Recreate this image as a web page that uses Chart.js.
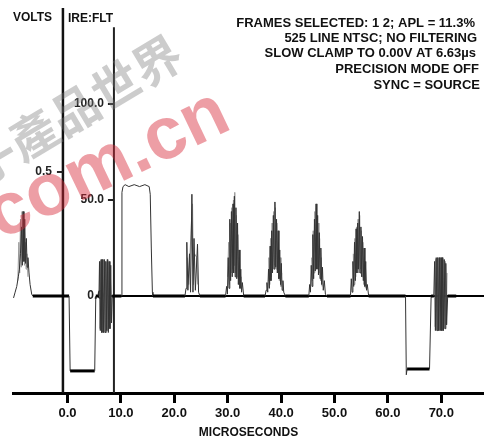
<!DOCTYPE html>
<html>
<head>
<meta charset="utf-8">
<script src="https://cdn.jsdelivr.net/npm/chart.js@4.4.1/dist/chart.umd.min.js"></script>
<style>
  html, body { margin: 0; padding: 0; background: #fff; }
  #wrap { width: 484px; height: 439px; }
</style>
</head>
<body>
<div id="wrap"><canvas id="scope" width="484" height="439"></canvas></div>
<script>
// ====================== DATA ======================
const xTicks = [0, 10, 20, 30, 40, 50, 60, 70];
const ireTicks = [0, 50, 100];
const voltTicks = [0.5];
const xTitle = "MICROSECONDS";
const voltsTitle = "VOLTS";
const ireTitle = "IRE:FLT";
const headerLines = [
  "FRAMES SELECTED: 1 2; APL = 11.3%",
  "525 LINE NTSC; NO FILTERING",
  "SLOW CLAMP TO 0.00V AT 6.63\u00b5s",
  "PRECISION MODE OFF",
  "SYNC = SOURCE"
];
const watermarkLatin = "com.cn";
const watermarkCJK = "電子產品世界";

// frame 1 trace: time (us) / level (IRE)
const frame1T = [
  -10.1, -9.8, -9.5, -9.2, -9.0, -8.8, -8.6, -8.45, -8.3, -8.15, -8.0, -7.85, -7.7, -7.55, -7.4, -7.2, -7.0, -6.7, -6.5,
  0.3, 0.5, 5.1, 5.3, 5.9,
  6.0, 6.15, 6.3, 6.45, 6.6, 6.75, 6.9, 7.05, 7.2, 7.35, 7.5, 7.65, 7.8, 7.95, 8.1, 8.25, 8.4,
  10.1, 10.2, 10.4, 10.8, 11.5, 12.5, 13.5, 14.5, 15.3, 15.5, 15.7, 15.9, 16.0,
  22.0, 22.2, 22.35, 22.55, 22.85, 23.05, 23.3, 23.5, 23.7, 23.95, 24.35, 24.55, 24.8,
  29.6, 29.8, 29.95, 30.1, 30.25, 30.4, 30.55, 30.7, 30.85, 31.0, 31.12, 31.25, 31.4, 31.55, 31.7, 31.85, 32.0, 32.15, 32.3, 32.45, 32.6, 32.75, 33.0,
  37.0, 37.2, 37.35, 37.5, 37.65, 37.8, 37.95, 38.1, 38.25, 38.4, 38.55, 38.7, 38.85, 39.0, 39.15, 39.3, 39.45, 39.6, 39.75, 39.9, 40.05, 40.2, 40.35, 40.5, 40.8,
  45.2, 45.35, 45.5, 45.65, 45.8, 45.95, 46.1, 46.25, 46.4, 46.55, 46.7, 46.85, 47.0, 47.15, 47.3, 47.45, 47.6, 47.75, 47.9, 48.1, 48.3, 48.6,
  53.0, 53.15, 53.3, 53.45, 53.6, 53.75, 53.9, 54.05, 54.2, 54.35, 54.5, 54.65, 54.8, 54.95, 55.1, 55.25, 55.4, 55.55, 55.7, 55.85, 56.0, 56.15, 56.4,
  63.3, 63.45, 63.6, 67.8, 68.1, 68.6,
  68.75, 68.9, 69.05, 69.2, 69.35, 69.5, 69.65, 69.8, 69.95, 70.1, 70.25, 70.4, 70.55, 70.7, 70.85, 71.0, 71.2, 72.8
];
const frame1V = [
  -1, 2, 5, 10, 14, 22, 36, 16, 44, 18, 40, 17, 30, 15, 20, 12, 6, 1, 0,
  0, -39, -39, 0, 0,
  18, -18, 19, -19, 19, -19, 19, -19, 18, -18, 19, -19, 18, -17, 16, -14, 0,
  0, 54, 57, 58, 57, 58, 57, 58, 57, 53, 25, 2, 0,
  0, 4, 28, 3, 22, 2, 53, 2, 30, 3, 27, 2, 0,
  0, 5, 1, 20, 4, 40, 8, 44, 10, 48, 12, 52, 10, 46, 9, 38, 6, 24, 4, 14, 2, 7, 0,
  0, 3, 7, 2, 14, 4, 26, 8, 34, 12, 42, 14, 49, 15, 40, 12, 34, 9, 24, 6, 17, 3, 8, 2, 0,
  0, 6, 2, 16, 5, 32, 9, 40, 13, 48, 14, 42, 11, 33, 9, 25, 6, 15, 3, 8, 1, 0,
  0, 9, 2, 18, 5, 28, 8, 35, 12, 38, 14, 44, 12, 36, 10, 31, 8, 25, 5, 18, 3, 6, 0,
  0, -41, -38, -38, 0, 0,
  18, -18, 20, -18, 20, -18, 20, -18, 20, -18, 20, -18, 19, -17, 17, -15, 0, 0
];

// frame 2 (grey), only the chroma parts; null breaks the line
const frame2T = [
  -9.3, -9.1, -8.95, -8.8, -8.65, -8.5, -8.35, -8.2, -8.05, -7.9, -7.75, -7.6, -7.4, -7.4,
  6.05, 6.22, 6.38, 6.52, 6.68, 6.82, 6.98, 7.12, 7.28, 7.42, 7.58, 7.72, 7.88, 8.02, 8.18, 8.18,
  22.45, 22.7, 23.2, 23.42, 23.6, 23.8, 24.2, 24.4, 24.4,
  30.0, 30.18, 30.32, 30.48, 30.62, 30.78, 30.92, 31.08, 31.2, 31.33, 31.48, 31.62, 31.78, 31.92, 32.08, 32.22, 32.38, 32.55, 32.55,
  37.6, 37.72, 37.88, 38.02, 38.18, 38.32, 38.48, 38.62, 38.78, 38.92, 39.08, 39.22, 39.38, 39.52, 39.68, 39.82, 39.98, 40.12, 40.12,
  45.72, 45.88, 46.02, 46.18, 46.32, 46.48, 46.62, 46.78, 46.92, 47.08, 47.22, 47.38, 47.52, 47.68, 47.68,
  53.52, 53.68, 53.82, 53.98, 54.12, 54.28, 54.42, 54.58, 54.72, 54.88, 55.02, 55.18, 55.32, 55.48, 55.62, 55.78, 55.78,
  68.82, 68.98, 69.12, 69.28, 69.42, 69.58, 69.72, 69.88, 70.02, 70.18, 70.32, 70.48, 70.62, 70.78, 70.92, 71.08
];
const frame2V = [
  8, 28, 12, 40, 15, 44, 20, 38, 16, 28, 14, 22, 10, null,
  -17, 18, -19, 19, -19, 19, -19, 18, -19, 19, -18, 18, -16, 15, -12, null,
  20, 6, 38, 48, 6, 22, 20, 6, null,
  10, 28, 6, 38, 12, 46, 14, 50, 16, 54, 12, 42, 10, 32, 6, 20, 4, 10, null,
  8, 20, 6, 30, 10, 38, 14, 44, 16, 46, 14, 38, 12, 28, 8, 20, 5, 12, null,
  20, 8, 34, 12, 44, 14, 46, 14, 38, 12, 30, 8, 20, 5, null,
  22, 6, 30, 10, 36, 14, 40, 12, 42, 14, 34, 10, 28, 6, 20, 4, null,
  -16, 19, -18, 20, -18, 20, -18, 20, -18, 20, -18, 19, -17, 18, -15, 12
];

// ====================== HELPERS ======================
const FONT = '"Liberation Sans", Arial, Helvetica, sans-serif';
const voltsAxisAt = -0.85;   // us, where the VOLTS axis stands
const ireAxisAt = 8.7;       // us, where the IRE axis stands
const ireAxisTop = 140;      // IRE, top end of the IRE axis line

function toPoints(ts, vs) {
  let pts = [];
  for (let i = 0; i < Math.min(ts.length, vs.length); i++) pts.push({ x: ts[i], y: vs[i] });
  return pts;
}

function isFlat(ctx) {
  return ctx.p0.parsed.y === ctx.p1.parsed.y && ctx.p0.parsed.y <= 0;
}

// ====================== AXES / TEXT PLUGIN ======================
const scopeDecor = {
  id: "scopeDecor",
  beforeDatasetsDraw(chart) {
    const { ctx, chartArea, scales } = chart;
    const x = scales.x, y = scales.y, volts = scales.volts;
    ctx.save();

    // zero line from the IRE axis to the right edge
    const y0 = y.getPixelForValue(0);
    const ix = x.getPixelForValue(ireAxisAt);
    const vx = x.getPixelForValue(voltsAxisAt);
    ctx.strokeStyle = "#000";
    ctx.lineWidth = 2;
    ctx.beginPath();
    ctx.moveTo(ix, y0);
    ctx.lineTo(chartArea.right, y0);
    ctx.stroke();

    // VOLTS axis
    ctx.lineWidth = 2.5;
    ctx.strokeStyle = "#111";
    ctx.beginPath();
    ctx.moveTo(vx, chartArea.top);
    ctx.lineTo(vx, chartArea.bottom);
    ctx.stroke();

    // IRE axis
    ctx.lineWidth = 2;
    ctx.strokeStyle = "#222";
    ctx.beginPath();
    ctx.moveTo(ix, y.getPixelForValue(ireAxisTop));
    ctx.lineTo(ix, chartArea.bottom);
    ctx.stroke();

    ctx.font = "bold 12px " + FONT;
    ctx.fillStyle = "#222";
    ctx.textAlign = "right";
    ctx.textBaseline = "middle";

    voltTicks.forEach(v => {
      const py = volts.getPixelForValue(v);
      ctx.beginPath();
      ctx.moveTo(vx - 6, py);
      ctx.lineTo(vx, py);
      ctx.stroke();
      ctx.fillText(v.toFixed(1), vx - 11, py);
    });

    ireTicks.forEach(v => {
      const py = y.getPixelForValue(v);
      ctx.beginPath();
      ctx.moveTo(ix - 6, py);
      ctx.lineTo(ix, py);
      ctx.stroke();
      ctx.fillText(v.toFixed(1), ix - 10, py);
    });

    // axis titles
    ctx.fillStyle = "#111";
    ctx.textAlign = "left";
    ctx.fillText(voltsTitle, 13, 18);
    ctx.fillText(ireTitle, 68, 18.5);

    // status block, top right
    const rights = [475, 477, 476, 479, 480];
    const ys = [23, 38, 53.5, 69.5, 85];
    ctx.font = "bold 13px " + FONT;
    ctx.textAlign = "right";
    headerLines.forEach((t, i) => ctx.fillText(t, rights[i], ys[i]));
    ctx.restore();
  },
  afterDraw(chart) {
    const { ctx } = chart;
    ctx.save();
    // site watermark
    ctx.translate(-60, 212);
    ctx.rotate(-31 * Math.PI / 180);
    ctx.font = "bold 48px 'Noto Sans CJK TC'";
    ctx.fillStyle = "rgba(120,120,120,0.38)";
    ctx.textAlign = "left";
    ctx.textBaseline = "alphabetic";
    ctx.fillText(watermarkCJK, 0, 0);
    ctx.restore();

    ctx.save();
    ctx.translate(0, 240);
    ctx.rotate(-25.6 * Math.PI / 180);
    ctx.font = "bold 74px " + FONT;
    ctx.fillStyle = "rgba(215,40,55,0.45)";
    ctx.textAlign = "left";
    ctx.textBaseline = "alphabetic";
    ctx.fillText(watermarkLatin, 0, 0);
    ctx.restore();
  }
};

// ====================== CHART ======================
const scopeChart = new Chart(document.getElementById("scope"), {
  type: "line",
  data: {
    datasets: [
      {
        label: "Frame 1",
        data: toPoints(frame1T, frame1V),
        borderColor: "#333",
        borderWidth: 1,
        pointRadius: 0,
        tension: 0,
        segment: {
          borderWidth: ctx => isFlat(ctx) ? 3 : 1,
          borderColor: ctx => isFlat(ctx) ? "#000" : "#333"
        }
      },
      {
        label: "Frame 2",
        data: toPoints(frame2T, frame2V),
        borderColor: "#999",
        borderWidth: 1,
        pointRadius: 0,
        tension: 0,
        spanGaps: false
      }
    ]
  },
  options: {
    responsive: false,
    animation: false,
    devicePixelRatio: 1,
    layout: { padding: { left: 13, top: 8, right: 0, bottom: 0 } },
    plugins: { legend: { display: false }, tooltip: { enabled: false } },
    scales: {
      x: {
        type: "linear",
        min: -10.2,
        max: 78,
        afterBuildTicks: s => { s.ticks = xTicks.map(v => ({ value: v })); },
        afterFit: s => { s.height = 46; },
        grid: { drawOnChartArea: false, drawTicks: true, tickLength: 10, lineWidth: 3, color: "#000" },
        border: { display: true, width: 3, color: "#000" },
        ticks: {
          padding: 3,
          color: "#111",
          autoSkip: false,
          maxRotation: 0,
          font: { family: FONT, size: 13, weight: "bold" },
          callback: v => Number(v).toFixed(1)
        },
        title: {
          display: true,
          text: xTitle,
          color: "#111",
          padding: 0,
          font: { family: FONT, size: 12, weight: "bold", lineHeight: 1 }
        }
      },
      y: { type: "linear", display: false, min: -50.5, max: 150 },
      volts: { type: "linear", axis: "y", position: "left", display: false, min: -0.391, max: 1.161 }
    }
  },
  plugins: [scopeDecor]
});
</script>
</body>
</html>
